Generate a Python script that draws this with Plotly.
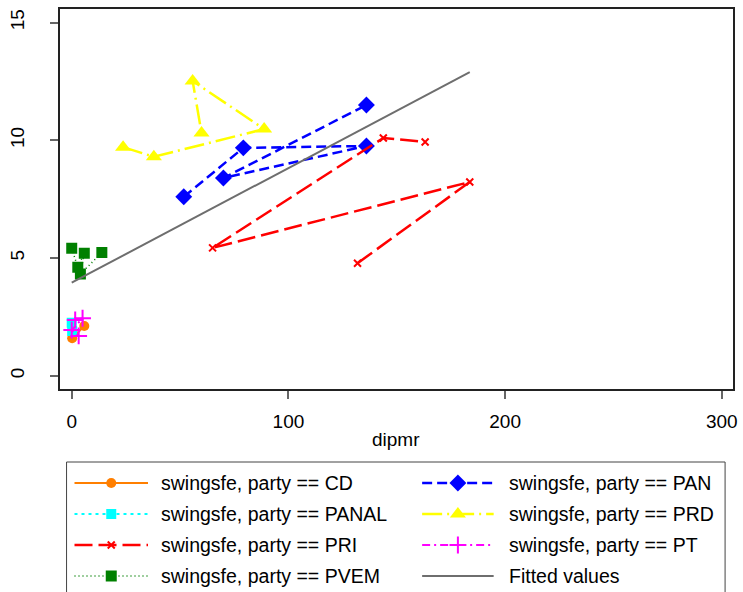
import plotly.graph_objects as go

W, H = 743, 592

# ---- data ----
cd_x = [5.8, 0.2]
cd_y = [2.11, 1.59]
pan_x = [51.7, 79.2, 136.0, 70.0, 136.0]
pan_y = [7.60, 9.68, 9.76, 8.40, 11.50]
panal_x = [0.0, 0.2]
panal_y = [2.25, 1.90]
prd_x = [23.7, 37.9, 88.8, 55.8, 59.9]
prd_y = [9.71, 9.30, 10.48, 12.52, 10.31]
pri_x = [131.9, 183.7, 65.0, 143.8, 163.1]
pri_y = [4.78, 8.23, 5.43, 10.10, 9.93]
pt_x = [1.6, 5.0, 0.0, 3.2]
pt_y = [2.37, 2.44, 1.94, 1.69]
pvem_x = [0.0, 2.8, 5.8, 4.0, 13.9]
pvem_y = [5.41, 4.61, 5.20, 4.32, 5.23]
fit_x = [0.0, 183.7]
fit_y = [3.95, 12.90]

x_ticks = [0, 100, 200, 300]
y_ticks = [0, 5, 10, 15]

FONT = "Liberation Sans, Arial, sans-serif"

# style per series: name, x, y, color, dash, width, symbol, size, marker line width
series = [
    ("swingsfe, party == CD", cd_x, cd_y, "#FF7F00", "solid", 2, "circle", 10, 0),
    ("swingsfe, party == PAN", pan_x, pan_y, "#0000FF", "10px,5px", 2.5, "diamond", 13, 0),
    ("swingsfe, party == PANAL", panal_x, panal_y, "#00FFFF", "3px,4px", 2, "square", 10, 0),
    ("swingsfe, party == PRD", prd_x, prd_y, "#FFFF00", "20px,5px,2px,5px", 2.5, "triangle-up", 14, 0),
    ("swingsfe, party == PRI", pri_x, pri_y, "#FF0000", "18px,6px", 2.5, "x-thin-open", 7, 2),
    ("swingsfe, party == PT", pt_x, pt_y, "#FF00FF", "8px,4px,2px,4px", 2, "cross-thin-open", 12, 2),
    ("swingsfe, party == PVEM", pvem_x, pvem_y, "#008000", "1px,3px", 1.5, "square", 11, 0),
    ("Fitted values", fit_x, fit_y, "#6E6E6E", "solid", 2, None, 0, 0),
]

fig = go.Figure()
for name, xs, ys, col, dash, lw, sym, sz, mlw in series:
    if sym is None:
        fig.add_trace(go.Scatter(x=xs, y=ys, mode="lines", name=name,
                                 line=dict(color=col, width=lw, dash=dash),
                                 showlegend=False, xaxis="x", yaxis="y"))
    else:
        fig.add_trace(go.Scatter(x=xs, y=ys, mode="lines+markers", name=name,
                                 line=dict(color=col, width=lw, dash=dash),
                                 marker=dict(symbol=sym, size=sz, color=col, opacity=1,
                                             line=dict(color=col, width=mlw)),
                                 showlegend=False, xaxis="x", yaxis="y"))

# ---- hand-drawn legend (two columns, row-wise order like Stata) ----
row_y = [483, 514, 545, 576]
col_line = [(75, 149), (425, 497)]
col_text = [160, 510]
annotations = []
for i, (name, xs, ys, col, dash, lw, sym, sz, mlw) in enumerate(series):
    r, c = i // 2, i % 2
    x0, x1 = col_line[c]
    xm = (x0 + x1) / 2
    yy = row_y[r]
    if sym is None:
        fig.add_trace(go.Scatter(x=[x0, x1], y=[yy, yy], mode="lines",
                                 line=dict(color=col, width=lw, dash=dash),
                                 showlegend=False, hoverinfo="skip",
                                 xaxis="x2", yaxis="y2"))
    else:
        fig.add_trace(go.Scatter(x=[x0, x1], y=[yy, yy], mode="lines",
                                 line=dict(color=col, width=lw, dash=dash),
                                 showlegend=False, hoverinfo="skip",
                                 xaxis="x2", yaxis="y2"))
        fig.add_trace(go.Scatter(x=[xm], y=[yy], mode="markers",
                                 marker=dict(symbol=sym, size=sz, color=col, opacity=1,
                                             line=dict(color=col, width=mlw)),
                                 showlegend=False, hoverinfo="skip",
                                 xaxis="x2", yaxis="y2"))
    annotations.append(dict(x=col_text[c], y=yy, xref="x2", yref="y2", text=name,
                            showarrow=False, xanchor="left", yanchor="middle",
                            font=dict(family=FONT, size=19.5, color="#000")))

# x axis title
annotations.append(dict(x=0.5 * (60 + 738) / W, y=1 - 439 / H, xref="paper", yref="paper",
                        text="dipmr", showarrow=False, xanchor="center", yanchor="middle",
                        font=dict(family=FONT, size=19, color="#000")))

shapes = [dict(type="rect", xref="x2", yref="y2", x0=67, x1=730, y0=462, y1=H + 10,
               line=dict(color="#444", width=1), fillcolor="rgba(0,0,0,0)", layer="below")]

fig.update_layout(
    width=W, height=H,
    margin=dict(l=0, r=0, t=0, b=0),
    paper_bgcolor="white",
    plot_bgcolor="rgba(0,0,0,0)",
    showlegend=False,
    annotations=annotations,
    shapes=shapes,
    xaxis=dict(domain=[60 / W, 738 / W], range=[-5.6, 305.2], tickvals=x_ticks,
               showgrid=False, zeroline=False, showline=True, mirror=True,
               linecolor="#222", linewidth=1.5, ticks="outside", ticklen=8,
               tickwidth=1.5, tickcolor="#666", ticklabelstandoff=6,
               tickfont=dict(family=FONT, size=19, color="#000"),
               anchor="y"),
    yaxis=dict(domain=[1 - 389 / H, 1 - 9 / H], range=[-0.565, 15.58], tickvals=y_ticks,
               showgrid=False, zeroline=False, showline=True, mirror=True,
               linecolor="#222", linewidth=1.5, ticks="outside", ticklen=8,
               tickwidth=1.5, tickcolor="#666", tickangle=-90,
               ticklabelstandoff=18,
               tickfont=dict(family=FONT, size=19, color="#000"),
               anchor="x"),
    xaxis2=dict(domain=[0, 1], range=[0, W], visible=False, fixedrange=True, anchor="y2"),
    yaxis2=dict(domain=[0, 1], range=[H, 0], visible=False, fixedrange=True, anchor="x2"),
)

fig.write_html("out.html")
